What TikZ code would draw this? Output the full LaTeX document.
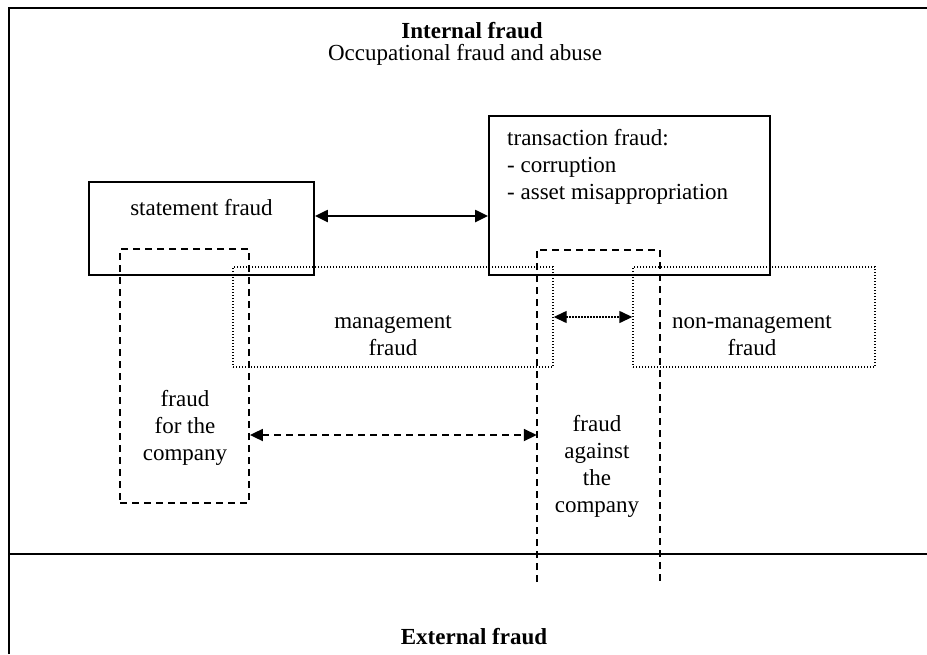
\documentclass[tikz,border=0pt]{standalone}
\usepackage{fontspec}
\setmainfont{Liberation Serif}
\usetikzlibrary{arrows.meta}
\tikzset{
  dashedline/.style={line width=1.8pt, dash pattern=on 7pt off 5pt},
  dottedline/.style={line width=1.4pt, dash pattern=on 1.4pt off 1.6pt},
  area/.style={inner sep=0pt},
  lbl/.style={align=center, inner sep=0pt, font=\fontsize{23}{27}\selectfont},
  mytip/.tip={Triangle[length=13pt,width=12pt]},
  frame/.style={line width=2pt}
}
\begin{document}
\begin{tikzpicture}[x=1pt,y=-1pt]
\useasboundingbox (0,0) rectangle (927,654);
% outer frame
\coordinate (fbl) at (9,654);
\coordinate (ftl) at (9,8);
\coordinate (ftr) at (927,8);
\coordinate (ml) at (9,554);
\coordinate (mr) at (927,554);
\draw[frame] (fbl) -- (ftl) -- (ftr);
\draw[frame] (ml) -- (mr);
% titles
\node[lbl, font=\fontsize{23}{27}\selectfont\bfseries] (intl) at (472,31) {Internal fraud};
\node[lbl] (occ) at (465,55) {Occupational fraud and abuse};
\node[lbl, font=\fontsize{23}{27}\selectfont\bfseries] (ext) at (474,637) {External fraud};
% solid boxes
\node[draw, line width=1.8pt, area, minimum width=225pt, minimum height=93pt] (sf) at (201.5,228.5) {};
\node[draw, line width=1.8pt, area, minimum width=281pt, minimum height=159pt] (tf) at (629.5,195.5) {};
% dotted boxes
\node[draw, dottedline, area, minimum width=320pt, minimum height=100pt] (mg) at (393,317) {};
\node[draw, dottedline, area, minimum width=242pt, minimum height=100pt] (nm) at (754,317) {};
% dashed boxes
\node[draw, dashedline, area, minimum width=129pt, minimum height=254pt] (ffc) at (184.5,376) {};
\node[area, minimum width=123pt, minimum height=332pt] (fac) at (598.5,416) {};
\draw[dashedline] (fac.south west) -- (fac.north west) -- (fac.north east) -- (fac.south east);
% labels
\node[lbl] (sft) at (201.5,208) {statement fraud};
\node[lbl, align=left, anchor=west] (tft) at (507,167) {transaction fraud:\\- corruption\\- asset misappropriation};
\node[lbl] (mgt) at (393,336) {management\\fraud};
\node[lbl] (nmt) at (752,336) {non-management\\fraud};
\node[lbl] (ffct) at (185,428) {fraud\\for the\\company};
\node[lbl] (fact) at (597,466) {fraud\\against\\the\\company};
% arrows
\draw[line width=2.2pt, {mytip}-{mytip}] ([yshift=12.5pt]sf.east) -- ([yshift=12.5pt]sf.east -| tf.west);
\draw[dottedline, {mytip}-{mytip}] (mg.east) -- (nm.west);
\draw[dashedline, {mytip}-{mytip}] ([yshift=-59pt]ffc.east) -- ([yshift=-59pt]ffc.east -| fac.west);
\end{tikzpicture}
\end{document}
